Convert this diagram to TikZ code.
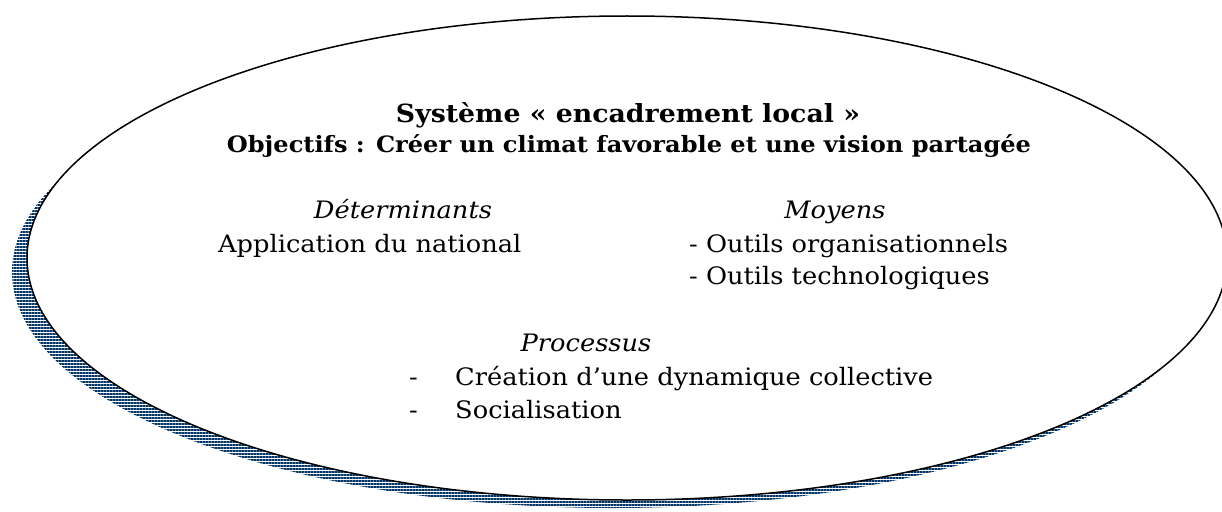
\documentclass[tikz,border=0pt]{standalone}
\usepackage{fontspec}
\setmainfont{DejaVu Serif}[FakeStretch=1.07]
\usetikzlibrary{patterns.meta}
\definecolor{ombre}{RGB}{0,51,102}
\tikzset{
  titre/.style={anchor=base, inner sep=0pt, font=\fontsize{25}{29}\selectfont\bfseries},
  soustitre/.style={anchor=base, inner sep=0pt, font=\fontsize{22.5}{26}\selectfont\bfseries},
  rubrique/.style={anchor=base, inner sep=0pt, font=\fontsize{24}{28}\selectfont\itshape},
  texte/.style={anchor=base west, inner sep=0pt, font=\fontsize{24}{28}\selectfont}
}

\begin{document}
\begin{tikzpicture}[x=1pt,y=-1pt]
\useasboundingbox (0,0) rectangle (1222,511);
\clip (0,0) rectangle (1222,511);
% ombre hachuree
\fill[pattern={Lines[angle=0,distance=3pt,line width=1.3pt]}, pattern color=ombre] (613,272) ellipse [x radius=601, y radius=236];
% ellipse du systeme
\filldraw[fill=white, draw=black, line width=1.5pt] (627,258) ellipse [x radius=600, y radius=242];

\node[titre] (titre) at (628,122) {Système « encadrement local »};
\node[soustitre] (objectifs) at (629,152) {Objectifs : Créer un climat favorable et une vision partagée};

\node[rubrique] (determinants) at (403,218) {Déterminants};
\node[texte] (application) at (218,252) {Application du national};

\node[rubrique] (moyens) at (835,218) {Moyens};
\node[texte] (outilsorg) at (689,252) {- Outils organisationnels};
\node[texte] (outilstech) at (689,284) {- Outils technologiques};

\node[rubrique] (processus) at (586,351) {Processus};
\node[texte] (tiret1) at (409,385) {-};
\node[texte] (creation) at (455,385) {Création d’une dynamique collective};
\node[texte] (tiret2) at (409,418) {-};
\node[texte] (socialisation) at (455,418) {Socialisation};
\end{tikzpicture}
\end{document}
